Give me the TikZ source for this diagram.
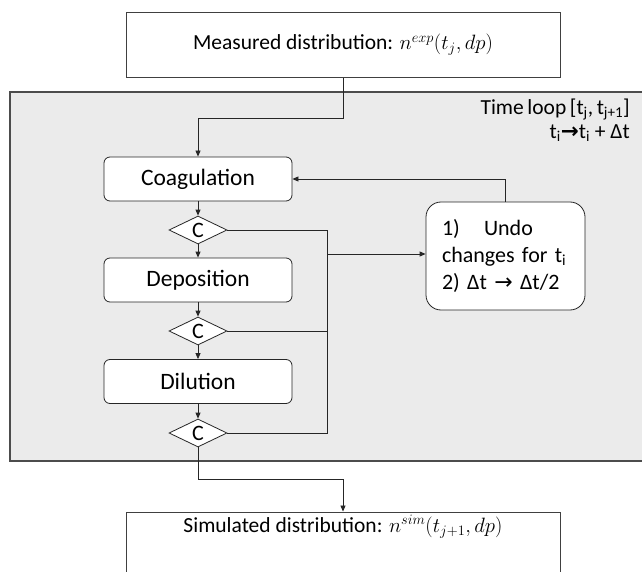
\documentclass[tikz,border=0pt]{standalone}
\usepackage{fontspec}
\setmainfont{Carlito}
\newfontfamily\symfont{DejaVu Sans}
\usetikzlibrary{shapes.geometric,arrows.meta}
\begin{document}
\begin{tikzpicture}[x=1pt,y=-1pt,
  every node/.style={font=\fontsize{21.5}{26}\selectfont},
  proc/.style={draw=black!85, fill=white, rounded corners=6pt, minimum width=188pt, minimum height=44pt, inner sep=0pt, line width=0.8pt, font=\fontsize{23.5}{28}\selectfont},
  cond/.style={draw=black!85, fill=white, diamond, minimum width=58pt, minimum height=28pt, inner sep=0pt, line width=0.8pt, font=\fontsize{22}{26}\selectfont},
  io/.style={draw=black!75, fill=white, minimum width=434pt, inner sep=0pt, line width=0.9pt},
  conn/.style={draw=black!85, line width=0.8pt},
  arr/.style={conn, -{Triangle[length=6pt,width=5pt]}}
]
\useasboundingbox (0,0) rectangle (642,572);
\clip (0,0) rectangle (642,572);
% time loop region
\draw[draw=black!70, fill=black!8, line width=1.2pt] (10,92) rectangle (660,461);
\node[anchor=north east, align=right, inner sep=0pt, font=\fontsize{21.5}{23.5}\selectfont] (tl) at (630,99)
  {Time\,loop\,[t\textsubscript{j},\,t\textsubscript{j+1}]\\t\textsubscript{i}{\symfont\bfseries →}t\textsubscript{i} + Δt};
% input / output
\node[io, minimum height=65pt] (meas) at (343,45) {Measured distribution: $n^{exp}\bigl(t_j,dp\bigr)$};
\node[io, text height=20pt, text depth=46pt] (sim) at (343,545) {Simulated distribution: $n^{sim}\bigl(t_{j+1},dp\bigr)$};
% process steps
\node[proc] (coag) at (198,179) {Coagulation};
\node[cond] (c1) at (198,230) {C};
\node[proc] (dep) at (198,280) {Deposition};
\node[cond] (c2) at (198,331) {C};
\node[proc] (dil) at (198,381.5) {Dilution};
\node[cond] (c3) at (198,433) {C};
\node[draw=black!85, fill=white, rounded corners=15pt, line width=0.8pt, minimum width=159pt, minimum height=108pt, text width=127pt, align=left, inner xsep=16pt, font=\fontsize{22}{27}\selectfont] (undo) at (505.5,256)
  {1)\hspace{1.1em}Undo\\changes for t\textsubscript{i}\\2) Δt {\symfont →} Δt/2};
% connectors
\coordinate (rx) at (327,254);
\draw[arr] (meas.south) -- ++(0,40) -| (coag.north);
\draw[arr] (coag) -- (c1);
\draw[arr] (c1) -- (dep);
\draw[arr] (dep) -- (c2);
\draw[arr] (c2) -- (dil);
\draw[arr] (dil) -- (c3);
\draw[conn] (c1.east) -- (c1.east -| rx) -- (c3.east -| rx) -- (c3.east);
\draw[conn] (c2.east) -- (c2.east -| rx);
\draw[arr] (rx) -- (rx -| undo.west);
\draw[arr] (undo.north) |- (coag.east);
\draw[arr] (c3.south) -- ++(0,32) -| (sim.north);
\end{tikzpicture}
\end{document}
